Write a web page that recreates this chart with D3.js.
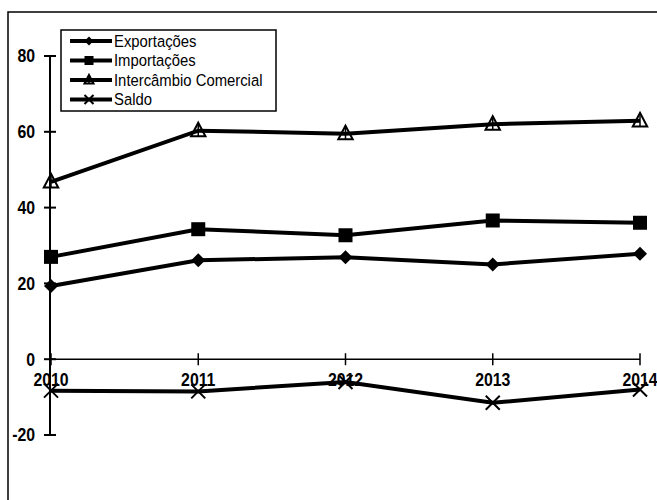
<!DOCTYPE html>
<html><head><meta charset="utf-8">
<script src="https://cdn.jsdelivr.net/npm/d3@7"></script>
<style>body{margin:0;background:#fff}svg{display:block}text{font-family:"Liberation Sans",Arial,sans-serif;fill:#000}</style>
</head><body><svg id="c" width="657" height="500"></svg>
<script>
const years = ["2010","2011","2012","2013","2014"];
const exportacoes = [19.3, 26.1, 26.9, 25.0, 27.8];
const importacoes = [27.0, 34.3, 32.7, 36.6, 36.0];
const intercambio = [46.8, 60.3, 59.5, 62.0, 62.9];
const saldo = [-8.3, -8.5, -6.0, -11.5, -8.0];
const yTicks = [80, 60, 40, 20, 0, -20];
const seriesNames = ["Exportações","Importações","Intercâmbio Comercial","Saldo"];

const series = [
  {name: seriesNames[0], values: exportacoes, marker: "diamond"},
  {name: seriesNames[1], values: importacoes, marker: "square"},
  {name: seriesNames[2], values: intercambio, marker: "triangle"},
  {name: seriesNames[3], values: saldo, marker: "x"}
];

const svg = d3.select("#c");
const x = d3.scalePoint().domain(years).range([51, 640]);
const y = d3.scaleLinear().domain([-20, 80]).range([435, 56]);
const sx = 0.88; // condensed glyphs

// frame (partial, as scanned)
svg.append("path").attr("d", "M8,500 L8,12 L657,12").attr("fill","none").attr("stroke","#000").attr("stroke-width",1.5);

// y axis
const yAxis = svg.append("g").attr("transform","translate(50,0)");
yAxis.append("line").attr("x1",0).attr("x2",0).attr("y1",y(80)).attr("y2",y(-20)).attr("stroke","#000").attr("stroke-width",2);
yAxis.selectAll("line.t").data(yTicks).join("line").attr("class","t")
  .attr("x1",-6).attr("x2",6).attr("y1",d=>y(d)).attr("y2",d=>y(d)).attr("stroke","#000").attr("stroke-width",2);
yAxis.selectAll("text").data(yTicks).join("text")
  .attr("transform",d=>`translate(-15,${y(d)}) scale(${sx},1)`)
  .attr("dy","0.36em").attr("text-anchor","end")
  .attr("font-size",18).attr("font-weight","bold").text(d=>d);

// x axis at 0
const xAxis = svg.append("g");
xAxis.append("line").attr("x1",x(years[0])).attr("x2",x(years[4])).attr("y1",y(0)).attr("y2",y(0)).attr("stroke","#000").attr("stroke-width",1.5);
xAxis.selectAll("line.t").data(years).join("line").attr("class","t")
  .attr("x1",d=>x(d)).attr("x2",d=>x(d)).attr("y1",y(0)-6).attr("y2",y(0)+6).attr("stroke","#000").attr("stroke-width",1.5);
xAxis.selectAll("text").data(years).join("text")
  .attr("transform",d=>`translate(${x(d)},${y(0)+27}) scale(${sx},1)`)
  .attr("text-anchor","middle")
  .attr("font-size",18).attr("font-weight","bold").text(d=>d);

function marker(g, type, cx, cy, s) {
  if (type === "diamond") {
    g.append("path").attr("d",`M${cx},${cy-s} L${cx+s},${cy} L${cx},${cy+s} L${cx-s},${cy} Z`).attr("fill","#000");
  } else if (type === "square") {
    g.append("rect").attr("x",cx-s).attr("y",cy-s).attr("width",2*s).attr("height",2*s).attr("fill","#000");
  } else if (type === "triangle") {
    g.append("path").attr("d",`M${cx},${cy-s} L${cx+s*0.9},${cy+s*0.7} L${cx-s*0.9},${cy+s*0.7} Z`).attr("fill","none").attr("stroke","#000").attr("stroke-width",2);
    g.append("line").attr("x1",cx).attr("x2",cx).attr("y1",cy-s).attr("y2",cy+s*0.7).attr("stroke","#000").attr("stroke-width",1.5);
  } else {
    g.append("path").attr("d",`M${cx-s},${cy-s} L${cx+s},${cy+s} M${cx+s},${cy-s} L${cx-s},${cy+s}`).attr("stroke","#000").attr("stroke-width",2);
  }
}
const sizes = {diamond: 7, square: 7, triangle: 8, x: 7};

const line = d3.line().x((d,i)=>x(years[i])).y(d=>y(d));
series.forEach(s => {
  const g = svg.append("g");
  g.append("path").attr("d", line(s.values)).attr("fill","none").attr("stroke","#000").attr("stroke-width",4);
  s.values.forEach((v,i) => marker(g, s.marker, x(years[i]), y(v), sizes[s.marker]));
});

// legend
const lg = svg.append("g");
lg.append("rect").attr("x",61).attr("y",30).attr("width",215).attr("height",81).attr("fill","#fff").attr("stroke","#000").attr("stroke-width",1.5);
series.forEach((s,i) => {
  const cy = 41 + i*19.5;
  lg.append("line").attr("x1",70).attr("x2",112).attr("y1",cy).attr("y2",cy).attr("stroke","#000").attr("stroke-width",4);
  marker(lg, s.marker, 89, cy, s.marker==="triangle"?5:4.5);
  lg.append("text").attr("transform",`translate(114,${cy}) scale(0.9,1)`).attr("dy","0.36em").attr("font-size",16.5).text(s.name);
});
</script></body></html>
